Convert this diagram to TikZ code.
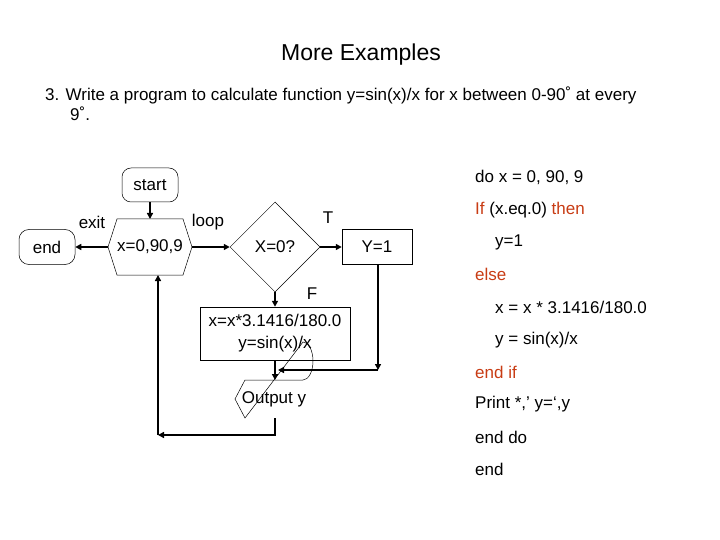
\documentclass[tikz,border=0pt]{standalone}
\usepackage{fontspec}
\setmainfont{Liberation Sans}
\usetikzlibrary{shapes.geometric,arrows.meta}
\definecolor{kw}{RGB}{200,60,20}
\begin{document}
\begin{tikzpicture}[x=1pt,y=-1pt,
  txt/.style={font=\fontsize{17}{20}\selectfont,inner sep=0},
  ln/.style={line width=1.6pt},
  ar/.style={ln,-{Triangle[length=6pt,width=6pt]}},
  bx/.style={draw,line width=0.5pt,txt}]
\useasboundingbox (0,0) rectangle (720,540);
\node[txt,font=\fontsize{23}{26}\selectfont] (title) at (361,55) {More Examples};
\node[txt,anchor=west] (l1) at (45,95) {3. Write a program to calculate function y=sin(x)/x for x between 0-90˚ at every};
\node[txt,anchor=west] (l2) at (70,114) {9˚.};
% flowchart
\node[bx,rounded corners=9pt,minimum width=56pt,minimum height=34pt] (start) at (150,185) {start};
\draw[line width=0.5pt] (108,247) -- (117,219) -- (183,219) -- (192,247) -- (183,275) -- (117,275) -- cycle;
\node[txt] (hex) at (150,247) {x=0,90,9};
\coordinate (hexL) at (108,247); \coordinate (hexR) at (192,247);
\coordinate (hexT) at (150,219); \coordinate (hexB) at (158,275);
\node[bx,rounded corners=10pt,minimum width=56pt,minimum height=35pt] (end) at (47,247) {end};
\node[draw,diamond,line width=0.5pt,minimum width=90pt,minimum height=90pt,inner sep=0,aspect=1] (dia) at (275,247) {};
\node[txt] (dt) at (275,247) {X=0?};
\node[bx,minimum width=70pt,minimum height=35pt] (y1) at (377,247) {Y=1};
\node[bx,minimum width=150pt,minimum height=53pt,align=center] (proc) at (275,333.5) {x=x*3.1416/180.0\\[2pt]y=sin(x)/x};
\draw[line width=0.5pt] (245,380) -- (303,380) arc (90:-90:10 and 19) -- (245,418) -- (235,399) -- cycle;
\node[txt] (out) at (274,399) {Output y};
\coordinate (outT) at (275,380); \coordinate (outB) at (275,418);
\draw[ar] (start.south) -- (hexT);
\draw[ar] (hexL) -- (end.east);
\draw[ar] (hexR) -- (dia.west);
\draw[ar] (dia.east) -- (y1.west);
\draw[ar] (dia.south) -- (proc.north);
\coordinate (j1) at (378,370); \coordinate (j2) at (275,370);
\draw[ar] (y1.south -| j1) -- (j1);
\draw[ar] (j1) -- (278,370);
\draw[ar] (proc.south) -- (outT);
\coordinate (b1) at (275,435); \coordinate (b2) at (158,435);
\draw[ar] (outB) -- (b1) -- (b2);
\draw[ar] (b2) -- (hexB);
\node[txt] (exit) at (92,222) {exit};
\node[txt] (loop) at (208,222) {loop};
\node[txt] (T) at (328,218) {T};
\node[txt] (F) at (312,294) {F};
% code
\node[txt,anchor=west] (c1) at (475,177) {do x = 0, 90, 9};
\node[txt,anchor=west] (c2) at (475,210) {\textcolor{kw}{If} (x.eq.0) \textcolor{kw}{then}};
\node[txt,anchor=west] (c3) at (495,242) {y=1};
\node[txt,anchor=west,kw] (c4) at (475,274) {else};
\node[txt,anchor=west] (c5) at (495,307) {x = x * 3.1416/180.0};
\node[txt,anchor=west] (c6) at (495,340) {y = sin(x)/x};
\node[txt,anchor=west,kw] (c7) at (475,372) {end if};
\node[txt,anchor=west] (c8) at (475,404) {Print *,’ y=‘,y};
\node[txt,anchor=west] (c9) at (475,437) {end do};
\node[txt,anchor=west] (c10) at (475,469) {end};
\end{tikzpicture}
\end{document}
